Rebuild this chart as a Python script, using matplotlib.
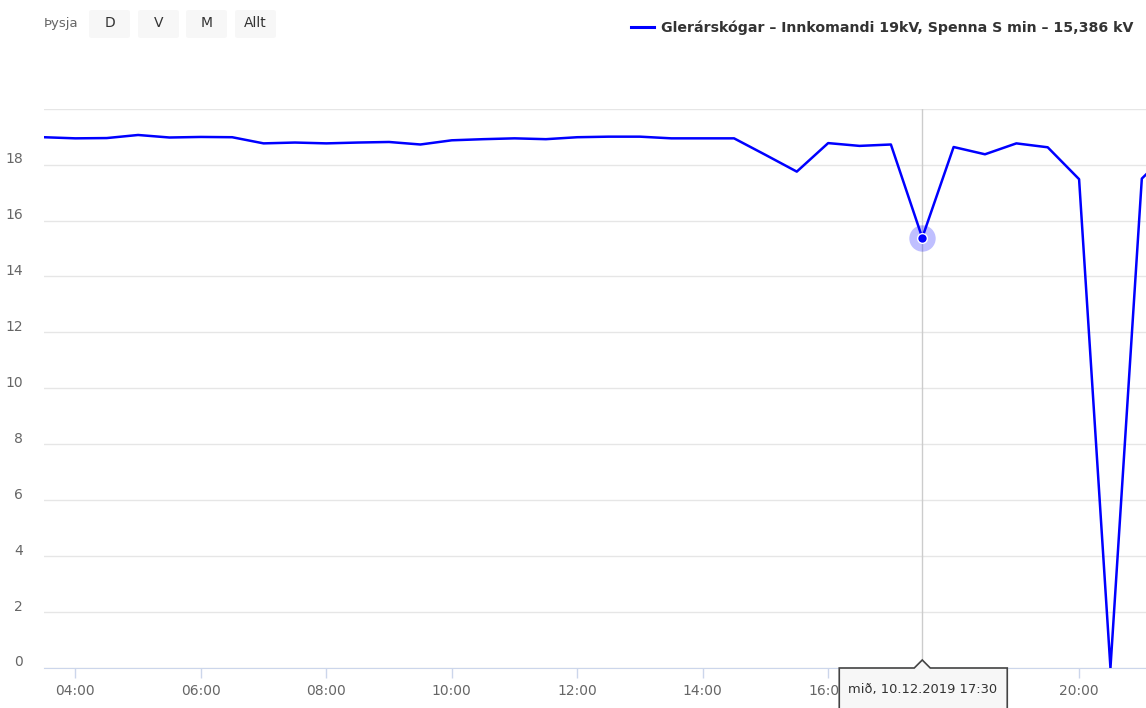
import pandas as pd
import matplotlib.pyplot as plt
import matplotlib.dates as mdates
import matplotlib.transforms as mtransforms
from matplotlib.patches import FancyBboxPatch, PathPatch
from matplotlib.path import Path

plt.rcParams['font.family'] = ['DejaVu Sans']

# Spenna S min (kV), 30 mín. bil, 10.12.2019
start = '2019-12-10 03:30'
values = [18.98, 18.94, 18.95, 19.06, 18.97, 18.99, 18.98, 18.76, 18.79, 18.76,
          18.79, 18.81, 18.72, 18.87, 18.91, 18.94, 18.91, 18.98, 19.00, 19.00,
          18.94, 18.94, 18.94, 18.35, 17.75, 18.77, 18.67, 18.72, 15.386, 18.63,
          18.37, 18.76, 18.62, 17.48, 0.0, 17.5, 18.6]
hover_idx = 28
yticks = [0, 2, 4, 6, 8, 10, 12, 14, 16, 18, 20]
ylabels = ['0', '2', '4', '6', '8', '10', '12', '14', '16', '18', '']
series_name = 'Glerárskógar – Innkomandi 19kV, Spenna S min – 15,386 kV'
tooltip_text = 'mið, 10.12.2019 17:30'
zoom_buttons = ['D', 'V', 'M', 'Allt']

times = pd.date_range(start, periods=len(values), freq='30min')
df = pd.DataFrame({'v': values}, index=times)

fig = plt.figure(figsize=(11.46, 7.08), dpi=100)
ax = fig.add_axes([44 / 1146, 40 / 708, 1 - 44 / 1146, (668 - 108.7) / 708])

ax.plot(df.index, df['v'], color='#0000ff', lw=1.8, zorder=3, solid_joinstyle='round')

ax.set_xlim(pd.Timestamp('2019-12-10 03:30'), pd.Timestamp('2019-12-10 21:04'))
ax.set_ylim(0, 20)
ax.set_yticks(yticks)
ax.set_yticklabels(ylabels)
ax.xaxis.set_major_locator(mdates.HourLocator(byhour=range(0, 24, 2)))
ax.xaxis.set_major_formatter(mdates.DateFormatter('%H:%M'))

ax.grid(axis='y', color='#e6e6e6', lw=1)
ax.set_axisbelow(True)
for s in ['top', 'right', 'left']:
    ax.spines[s].set_visible(False)
ax.spines['bottom'].set_color('#ccd6eb')
ax.tick_params(axis='y', length=0, pad=15, labelsize=10, labelcolor='#666666')
ax.tick_params(axis='x', length=7.5, width=1, color='#ccd6eb', pad=4,
               labelsize=10, labelcolor='#666666')
off = mtransforms.ScaledTranslation(0, 7 / 100, fig.dpi_scale_trans)
for lab in ax.get_yticklabels():
    lab.set_transform(lab.get_transform() + off)

# crosshair og valinn punktur
th = df.index[hover_idx]
vh = values[hover_idx]
ax.axvline(th, color='#cccccc', lw=1, zorder=2)
ax.plot([th], [vh], 'o', ms=19, color='#0000ff', alpha=0.25, mec='none', zorder=4)
ax.plot([th], [vh], 'o', ms=7, color='#0000ff', mec='white', mew=1, zorder=5)

# 18:00 er falið undir tooltip
fig.canvas.draw()
for lab in ax.get_xticklabels():
    if lab.get_text() == '18:00':
        lab.set_visible(False)

# tooltip
px, py = ax.transData.transform((mdates.date2num(th), 0))
verts = [(px - 83, py - 50), (px - 83, py), (px - 8, py), (px, py + 8),
         (px + 8, py), (px + 85, py), (px + 85, py - 50), (px - 83, py - 50)]
codes = [Path.MOVETO] + [Path.LINETO] * 6 + [Path.CLOSEPOLY]
tip = PathPatch(Path(verts, codes), fc='#f7f7f7', ec='#444444', lw=1.2,
                transform=mtransforms.IdentityTransform(), zorder=10, clip_on=False)
fig.add_artist(tip)
fig.text(px - 74, py - 21, tooltip_text, transform=mtransforms.IdentityTransform(),
         ha='left', va='center', fontsize=9.4, color='#333333', zorder=11)

# legend
leg = fig.legend([ax.lines[0]], [series_name], loc='center right',
                 bbox_to_anchor=(1133 / 1146, 1 - 28 / 708), frameon=False,
                 borderaxespad=0, borderpad=0, handlelength=1.6, handletextpad=0.5,
                 prop={'weight': 'bold', 'size': 10.2})
for t in leg.get_texts():
    t.set_color('#333333')
leg.get_lines()[0].set_linewidth(2.2)

# range selector
fig.text(44 / 1146, 1 - 24 / 708, 'Þysja', ha='left', va='center', fontsize=9.5, color='#666666')
bx = [89, 138, 186, 235]
for x0, lab in zip(bx, zoom_buttons):
    fig.add_artist(FancyBboxPatch((x0 / 1146, 1 - 38 / 708), 41 / 1146, 28 / 708,
                                  boxstyle='round,pad=0,rounding_size=0.003',
                                  transform=fig.transFigure, fc='#f7f7f7', ec='none'))
    fig.text((x0 + 20.5) / 1146, 1 - 23 / 708, lab, ha='center', va='center',
             fontsize=10, color='#333333')

fig.savefig('out.png', dpi=100)
